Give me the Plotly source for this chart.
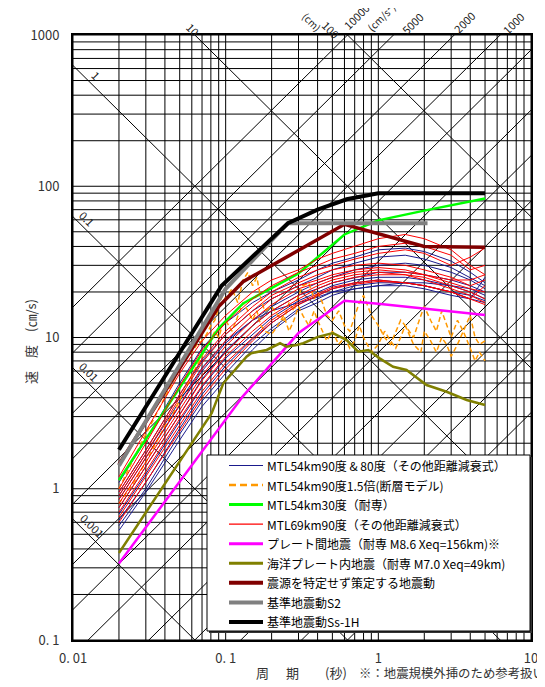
import math
import plotly.graph_objects as go

# ---------------- data ----------------
T_STD = [0.02, 0.03, 0.05, 0.07, 0.1, 0.15, 0.2, 0.3, 0.4, 0.5, 0.7, 1.0, 1.5, 2.0, 3.0, 4.0, 5.0]

BLUE_CURVES = [
    [1.1, 2.1, 5.0, 8.5, 12.5, 17, 20, 24, 28, 31, 34, 38, 39, 37, 32, 27, 23],
    [0.95, 1.8, 4.2, 7.0, 10.5, 15, 18, 22, 25, 28, 31, 34, 35, 33, 29, 25, 22],
    [0.85, 1.6, 3.6, 6.0, 9.2, 13, 16, 20, 23, 25, 28, 30, 31, 30, 27, 24, 21],
    [0.75, 1.4, 3.1, 5.3, 8.2, 12, 15, 19, 21, 23, 25, 27, 27, 26, 24, 22, 20],
    [0.68, 1.25, 2.8, 4.7, 7.3, 10.5, 13.5, 17.5, 20, 22, 24, 25, 25, 24, 22, 20, 18],
    [0.62, 1.1, 2.5, 4.2, 6.5, 9.8, 12.5, 16.5, 19, 21, 23, 24, 23, 22, 20, 19, 17.5],
    [0.57, 1.0, 2.3, 3.8, 5.8, 9.0, 11.5, 15.5, 18, 20, 22, 23, 23, 22, 20, 18, 17],
    [0.53, 0.95, 2.1, 3.5, 5.3, 8.3, 11, 15, 17, 19, 21, 22, 22, 21, 19, 18, 25],
    [0.9, 1.7, 3.8, 6.3, 9.5, 13, 15, 17, 18.5, 20, 21, 22, 23, 23, 22, 21, 19],
]
RED_CURVES = [
    [1.2, 2.4, 5.8, 9.5, 14, 20, 24, 28, 33, 36, 40, 45, 48, 45, 38, 30, 26],
    [1.0, 2.0, 4.8, 8.3, 12.5, 18, 22, 27, 30, 33, 36, 40, 42, 40, 35, 28, 30],
    [0.95, 1.8, 4.2, 7.2, 11, 16, 20, 25, 28, 30, 33, 36, 38, 36, 30, 34, 39],
    [0.9, 1.7, 4.0, 6.8, 10.5, 15, 19, 23, 26, 28, 30, 31, 30, 28, 25, 22, 24],
    [0.85, 1.6, 3.6, 6.2, 9.5, 14, 18, 22, 24, 26, 28, 29, 28, 26, 23, 21, 20],
    [0.8, 1.5, 3.3, 5.6, 8.8, 13, 16.5, 21, 23, 25, 27, 28, 27, 26, 24, 24, 26],
    [0.75, 1.4, 3.1, 5.2, 8.0, 12, 15, 19, 22, 24, 26, 27, 26, 25, 22, 20, 18],
    [0.7, 1.3, 2.9, 4.8, 7.5, 11, 14, 18, 21, 23, 25, 26, 26, 24, 21, 19, 17],
    [0.65, 1.2, 2.6, 4.4, 6.8, 10, 13, 17, 19.5, 21.5, 23, 24, 23, 22, 20, 18, 22],
    [0.6, 1.1, 2.4, 4.0, 6.2, 9.5, 12.5, 16.5, 19, 21, 22.5, 23.5, 23, 22, 20, 18, 16.5],
]

T_ORANGE = [0.02, 0.025, 0.03, 0.035, 0.04, 0.045, 0.05, 0.055, 0.06, 0.065, 0.07, 0.075, 0.08, 0.085,
            0.09, 0.095, 0.1, 0.11, 0.12, 0.13, 0.14, 0.15, 0.16, 0.17, 0.18, 0.2, 0.22, 0.24, 0.26, 0.28,
            0.3, 0.32, 0.35, 0.38, 0.4, 0.43, 0.46, 0.5, 0.55, 0.6, 0.65, 0.7, 0.75, 0.8, 0.9, 1.0, 1.1,
            1.2, 1.3, 1.4, 1.5, 1.7, 1.9, 2.0, 2.2, 2.4, 2.6, 2.8, 3.0, 3.3, 3.6, 4.0, 4.3, 4.6, 5.0]
ORANGE_CURVES = [
    [1.0, 1.6, 2.3, 3.1, 4.0, 5.0, 6.2, 7.2, 8.0, 9.0, 9.5, 10.5, 12, 13, 16, 19, 18, 21, 17, 24, 27,
     22, 25, 18, 15, 16, 14, 13, 17, 15, 19, 22, 23, 18, 20, 17, 14, 13, 15, 12, 11, 14, 17, 19, 14,
     12, 10, 9, 11, 13, 12, 10, 14, 16, 13, 11, 15, 12, 10, 13, 11, 14, 10, 9, 9.5],
    [0.8, 1.1, 1.5, 2.0, 2.6, 3.1, 3.9, 4.7, 5.6, 6.5, 7.6, 8.5, 9.8, 11, 10, 12, 13, 11, 14, 17, 15,
     13, 15, 12, 11, 10.5, 12, 14, 11, 13, 16, 14, 12, 15, 13, 11, 9.5, 11, 9, 10, 8.5, 9.5, 12, 10, 8,
     9, 11, 9.5, 8.5, 10, 12, 9, 8, 11, 9.5, 8, 10, 9, 7.5, 9, 11, 8.5, 7, 8, 7],
]

T_NODA = [0.02, 0.09, 0.13, 0.3, 0.6, 1.0, 2.0, 5.0]
GREEN_V = [1.14, 11.5, 16.8, 26.5, 48, 59.5, 69, 83]
MAGENTA_V = [0.32, 2.5, 4.1, 10.7, 17.5, 16.7, 15.6, 14.1]

T_OLIVE = [0.02, 0.0555, 0.081, 0.0965, 0.137, 0.147, 0.1855, 0.227, 0.25, 0.292, 0.322, 0.402, 0.504,
           0.62, 0.738, 0.86, 1.02, 1.25, 1.53, 2.07, 2.8, 3.79, 5.0]
OLIVE_V = [0.376, 1.8, 3.16, 4.98, 7.46, 7.87, 8.27, 9.16, 8.7, 8.92, 9.16, 10.1, 10.7, 9.62, 8.05,
           8.27, 7.28, 6.41, 6.1, 4.85, 4.38, 3.86, 3.58]

T_DARKRED = [0.02, 0.09, 0.13, 0.6, 2.0, 5.0]
DARKRED_V = [1.45, 16, 23.4, 56, 40, 39.5]

T_S2 = [0.02, 0.1, 0.256, 2.1]
S2_V = [1.42, 21, 57, 57]

T_SS = [0.02, 0.094, 0.256, 0.4, 0.62, 1.0, 5.0]
SS_V = [1.81, 22, 57, 70, 82, 90, 90]

LEGEND_NAMES = [
    "MTL54km90度 & 80度（その他距離減衰式）",
    "MTL54km90度1.5倍(断層モデル)",
    "MTL54km30度（耐専）",
    "MTL69km90度（その他距離減衰式）",
    "プレート間地震（耐専 M8.6 Xeq=156km)※",
    "海洋プレート内地震（耐専 M7.0 Xeq=49km)",
    "震源を特定せず策定する地震動",
    "基準地震動S2",
    "基準地震動Ss-1H",
]

# grid / tripartite reference values
X_GRID = [m * 10.0 ** e for e in (-2, -1, 0) for m in range(1, 10)] + [10.0]
Y_GRID = [m * 10.0 ** e for e in (-1, 0, 1, 2) for m in range(1, 10)] + [1000.0]
DISP_LINES = [0.001, 0.01, 0.1, 1, 10, 100]                                   # cm
ACC_LINES = [1, 2, 5, 10, 20, 50, 100, 200, 500, 1000, 2000, 5000, 10000]    # cm/s2

X_TICKS = [0.01, 0.1, 1, 10]
X_TICKTEXT = ["0. 01", "0. 1", "1", "10"]
Y_TICKS = [0.1, 1, 10, 100, 1000]
Y_TICKTEXT = ["0. 1", "1", "10", "100", "1000"]

FONT = "Noto Sans CJK JP"
PAGE_OFF = 8                      # body margin of the html page
W, H = 545 - PAGE_OFF, 687 - PAGE_OFF
ML, MT = 73 - PAGE_OFF, 35 - PAGE_OFF
PW, PH = 458, 605
MR, MB = W - ML - PW, H - MT - PH


def px(xp):      # reference-picture x pixel -> paper
    return (xp - PAGE_OFF - ML) / PW


def py(yp):      # reference-picture y pixel -> paper
    return 1 - (yp - PAGE_OFF - MT) / PH


def t2px(t):
    return 73 + PW * (math.log10(t) + 2) / 3


def v2py(v):
    return 35 + PH * (3 - math.log10(v)) / 4


fig = go.Figure()

# grid
gx, gy = [], []
for v in X_GRID:
    gx += [v, v, None]
    gy += [0.1, 1000, None]
for v in Y_GRID:
    gx += [0.01, 10, None]
    gy += [v, v, None]
fig.add_trace(go.Scatter(x=gx, y=gy, mode="lines", line=dict(color="black", width=1),
                         hoverinfo="skip", showlegend=False))

# tripartite diagonals
dx, dy = [], []
for d in DISP_LINES:
    dx += [0.01, 10, None]
    dy += [2 * math.pi * d / 0.01, 2 * math.pi * d / 10, None]
for a in ACC_LINES:
    dx += [0.01, 10, None]
    dy += [a * 0.01 / (2 * math.pi), a * 10 / (2 * math.pi), None]
fig.add_trace(go.Scatter(x=dx, y=dy, mode="lines", line=dict(color="black", width=1),
                         hoverinfo="skip", showlegend=False))

BLUE, ORANGE, GREEN, RED = "#1a1a8c", "#ff9900", "#00ff00", "#ff0000"
MAGENTA, OLIVE, DARKRED, GRAY, BLACK = "#ff00ff", "#808000", "#800000", "#808080", "#000000"

for c in BLUE_CURVES:
    fig.add_trace(go.Scatter(x=T_STD, y=c, mode="lines", line=dict(color=BLUE, width=1),
                             showlegend=False, hoverinfo="skip"))
for c in ORANGE_CURVES:
    fig.add_trace(go.Scatter(x=T_ORANGE, y=c, mode="lines",
                             line=dict(color=ORANGE, width=1.5, dash="5px,3px"),
                             showlegend=False, hoverinfo="skip"))
fig.add_trace(go.Scatter(x=T_NODA, y=GREEN_V, mode="lines", line=dict(color=GREEN, width=2.5),
                         showlegend=False))
for c in RED_CURVES:
    fig.add_trace(go.Scatter(x=T_STD, y=c, mode="lines", line=dict(color=RED, width=1),
                             showlegend=False, hoverinfo="skip"))
fig.add_trace(go.Scatter(x=T_NODA, y=MAGENTA_V, mode="lines", line=dict(color=MAGENTA, width=2.5),
                         showlegend=False))
fig.add_trace(go.Scatter(x=T_OLIVE, y=OLIVE_V, mode="lines", line=dict(color=OLIVE, width=2.5),
                         showlegend=False))
fig.add_trace(go.Scatter(x=T_DARKRED, y=DARKRED_V, mode="lines", line=dict(color=DARKRED, width=3.5),
                         showlegend=False))
fig.add_trace(go.Scatter(x=T_S2, y=S2_V, mode="lines", line=dict(color=GRAY, width=4),
                         showlegend=False))
fig.add_trace(go.Scatter(x=T_SS, y=SS_V, mode="lines", line=dict(color=BLACK, width=4),
                         showlegend=False))

ann = []


def label(xr, yr, text, size=11, angle=0, xanchor="center", color="#222"):
    ann.append(dict(x=px(xr), y=py(yr), text=text, textangle=angle, showarrow=False,
                    xref="paper", yref="paper", xanchor=xanchor, yanchor="middle",
                    font=dict(family=FONT, size=size, color=color)))


# displacement labels (left side / top)
for d, txt, xr in [(1, "1", 96), (0.1, "0.1", 87), (0.01, "0.01", 89), (0.001, "0.001", 92)]:
    t = 10 ** ((xr - 73) / PW * 3 - 2)
    label(xr, v2py(2 * math.pi * d / t) - 13, txt, angle=45)
label(t2px(2 * math.pi * 10 / 1000) - 2, 29, "10", angle=45)
xt100 = t2px(2 * math.pi * 100 / 1000)
label(xt100 - 36, 22, "(cm)", size=10, angle=45)
label(xt100 - 17, 29, "100", angle=45)
# acceleration labels (top)
for a, dxr, yr in [(10000, 9, 16), (5000, 19, 23), (2000, 10, 22), (1000, 13, 23)]:
    xt = t2px(2 * math.pi * 1000 / a)
    label(xt + dxr, yr, str(a), angle=-45)
label(t2px(2 * math.pi * 1000 / 10000) + 33, 17, "(cm/s²)", size=10, angle=-45)
# acceleration labels (right side)
for a in [500, 200, 100, 50, 20, 10, 5, 2, 1]:
    label(547, v2py(a * 10 / (2 * math.pi)) - 12, str(a), angle=-45)

# axis titles
label(30, 342, "速　度　(㎝/s)", size=13, angle=-90, color="#333")
for xx, tx in [(262, "周"), (292, "期"), (336, "(秒)")]:
    label(xx, 672, tx, size=13, color="#333")
label(357, 673, "※：地震規模外挿のため参考扱い", size=12.4, xanchor="left", color="#333")

# legend (drawn box + samples + texts)
shapes = []
LX0, LY0, LX1, LY1 = 207, 455, 530, 631
shapes.append(dict(type="rect", xref="paper", yref="paper", x0=px(LX0 + 2), y0=py(LY1 + 2),
                   x1=px(LX1 + 2), y1=py(LY0 + 2), fillcolor="#333", line=dict(width=0), layer="above"))
shapes.append(dict(type="rect", xref="paper", yref="paper", x0=px(LX0), y0=py(LY1), x1=px(LX1),
                   y1=py(LY0), fillcolor="white", line=dict(color="black", width=1), layer="above"))
LEG_STYLE = [
    (BLUE, 1.2, "solid"), (ORANGE, 2.5, "7px,4px"), (GREEN, 3, "solid"), (RED, 1.2, "solid"),
    (MAGENTA, 3, "solid"), (OLIVE, 3, "solid"), (DARKRED, 4, "solid"), (GRAY, 4, "solid"),
    (BLACK, 4, "solid"),
]
for i, (name, (col, wd, ds)) in enumerate(zip(LEGEND_NAMES, LEG_STYLE)):
    yr = 465.5 + i * 19.56
    shapes.append(dict(type="line", xref="paper", yref="paper", x0=px(229), x1=px(263),
                       y0=py(yr), y1=py(yr), line=dict(color=col, width=wd, dash=ds), layer="above"))
    label(265, yr, name, size=12, xanchor="left", color="black")

fig.update_layout(
    width=W, height=H,
    margin=dict(l=ML, r=MR, t=MT, b=MB, autoexpand=False),
    paper_bgcolor="white", plot_bgcolor="white",
    font=dict(family=FONT, size=12, color="black"),
    showlegend=False,
    annotations=ann,
    shapes=shapes,
    xaxis=dict(type="log", range=[-2, 1], showgrid=False, zeroline=False, showline=True,
               mirror=True, linecolor="black", linewidth=2, tickvals=X_TICKS, ticktext=X_TICKTEXT,
               ticks="", tickfont=dict(family=FONT, size=13, color="#333"), ticklabelstandoff=5),
    yaxis=dict(type="log", range=[-1, 3], showgrid=False, zeroline=False, showline=True,
               mirror=True, linecolor="black", linewidth=2, tickvals=Y_TICKS, ticktext=Y_TICKTEXT,
               ticks="", tickfont=dict(family=FONT, size=13, color="#333"), ticklabelstandoff=9),
)

fig.write_html("out.html")
